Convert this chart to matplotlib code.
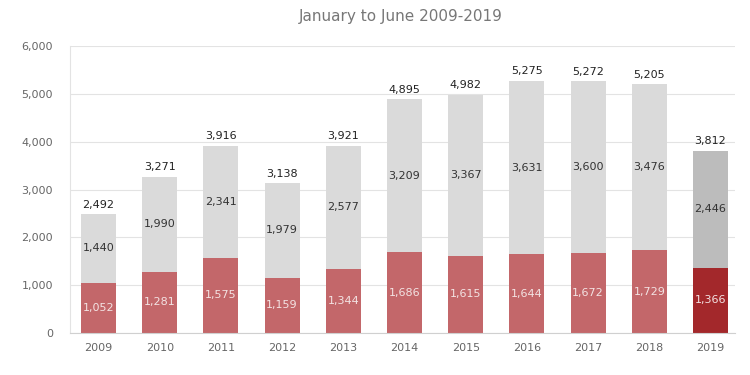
import numpy as np
import matplotlib.pyplot as plt
from matplotlib.ticker import FuncFormatter

years = ['2009', '2010', '2011', '2012', '2013', '2014', '2015', '2016', '2017', '2018', '2019']
red_vals = [1052, 1281, 1575, 1159, 1344, 1686, 1615, 1644, 1672, 1729, 1366]
gray_vals = [1440, 1990, 2341, 1979, 2577, 3209, 3367, 3631, 3600, 3476, 2446]
totals = [2492, 3271, 3916, 3138, 3921, 4895, 4982, 5275, 5272, 5205, 3812]

red_colors = ['#c3676a'] * 10 + ['#a3282b']
gray_colors = ['#dadada'] * 10 + ['#bcbcbc']

fig = plt.figure(figsize=(7.5, 3.75), dpi=100)
ax = fig.add_axes([0.093, 0.112, 0.887, 0.765])

x = np.arange(len(years))
w = 0.57
ax.bar(x, red_vals, width=w, color=red_colors, zorder=2)
ax.bar(x, gray_vals, width=w, bottom=red_vals, color=gray_colors, zorder=2)

for i in range(len(years)):
    ax.text(x[i], red_vals[i] / 2, f'{red_vals[i]:,}', ha='center', va='center',
            fontsize=8, color='#f3e3e3')
    ax.text(x[i], red_vals[i] + gray_vals[i] / 2, f'{gray_vals[i]:,}', ha='center',
            va='center', fontsize=8, color='#333333')
    ax.text(x[i], totals[i] + 90, f'{totals[i]:,}', ha='center', va='bottom',
            fontsize=8, color='#222222')

ax.set_xlim(-0.47, len(years) - 0.6)
ax.set_ylim(0, 6000)
ax.set_yticks(np.arange(0, 6001, 1000))
ax.yaxis.set_major_formatter(FuncFormatter(lambda v, p: f'{int(v):,}'))
ax.set_xticks(x)
ax.set_xticklabels(years)
ax.tick_params(axis='both', length=0, labelsize=8, colors='#666666')
ax.tick_params(axis='x', pad=7)
ax.tick_params(axis='y', pad=12)
ax.grid(axis='y', color='#e3e3e3', linewidth=0.8, zorder=0)
for side in ['top', 'right']:
    ax.spines[side].set_visible(False)
ax.spines['left'].set_color('#e3e3e3')
ax.spines['left'].set_linewidth(0.8)
ax.spines['bottom'].set_color('#d0d0d0')

fig.text(0.535, 0.955, 'January to June 2009-2019', ha='center', va='center',
         fontsize=11, color='#777777')

fig.savefig('out.png', dpi=100)
